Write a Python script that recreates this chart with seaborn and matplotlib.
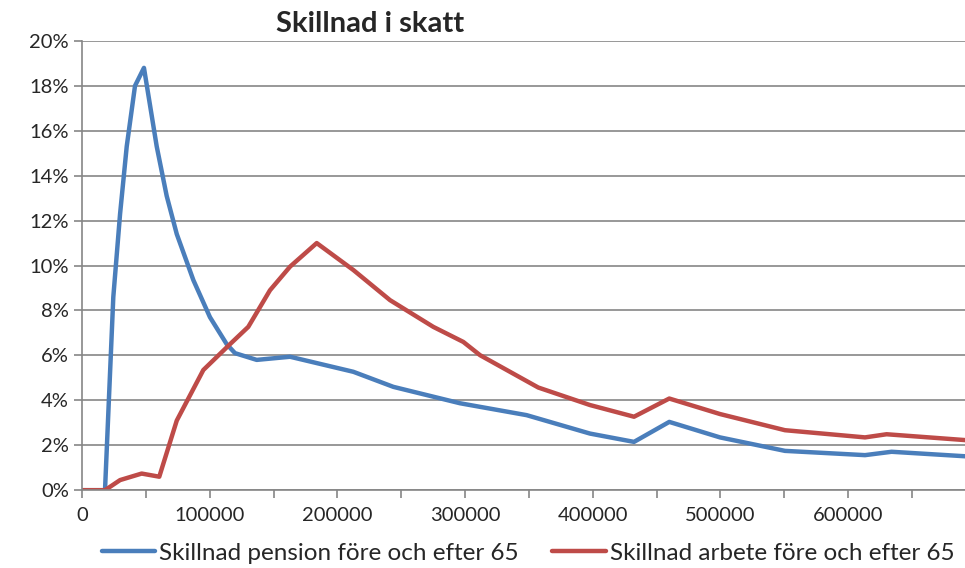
import pandas as pd
import matplotlib.pyplot as plt
import seaborn as sns
from matplotlib.ticker import FuncFormatter, MultipleLocator

# data (income in SEK, difference as fraction)
pension_x = [0, 18000, 24500, 29800, 35000, 41500, 48500, 58500, 66300, 74200,
             87200, 100200, 113300, 119800, 136800, 162900, 212500, 243800,
             296000, 311700, 348200, 397800, 432300, 459900, 499600, 550500,
             613200, 634000, 691500]
pension_y = [0.0, 0.0, 8.6, 12.3, 15.3, 18.0, 18.8, 15.3, 13.1, 11.4,
             9.35, 7.7, 6.5, 6.1, 5.8, 5.94, 5.27, 4.6,
             3.87, 3.71, 3.34, 2.52, 2.15, 3.04, 2.35, 1.75,
             1.56, 1.71, 1.51]

arbete_x = [0, 18000, 29800, 46700, 60500, 74200, 95000, 115900, 130200,
            147200, 162900, 183800, 212500, 241200, 275100, 298600, 311700,
            357300, 397800, 432300, 459900, 499600, 550500, 613200, 630100,
            691500]
arbete_y = [0.0, 0.0, 0.45, 0.74, 0.6, 3.1, 5.35, 6.5, 7.27,
            8.9, 9.95, 11.0, 9.8, 8.46, 7.27, 6.6, 6.01,
            4.57, 3.79, 3.27, 4.08, 3.39, 2.67, 2.35, 2.49,
            2.23]

labels = ["Skillnad pension före och efter 65", "Skillnad arbete före och efter 65"]

df = pd.concat([
    pd.DataFrame({"inkomst": pension_x, "skillnad": [v / 100 for v in pension_y], "serie": labels[0]}),
    pd.DataFrame({"inkomst": arbete_x, "skillnad": [v / 100 for v in arbete_y], "serie": labels[1]}),
])

sns.set_style("white")
plt.rcParams["font.family"] = ["Lato", "DejaVu Sans"]

fig = plt.figure(figsize=(9.65, 5.68), dpi=100)
ax = fig.add_axes([0.085, 0.137, 0.915, 0.791])

sns.lineplot(data=df, x="inkomst", y="skillnad", hue="serie",
             palette=["#4A7EBB", "#BE4B48"], linewidth=3.2, sort=False,
             estimator=None, ax=ax)

ax.set_xlim(0, 691500)
ax.set_ylim(0, 0.2)
ax.yaxis.set_major_locator(MultipleLocator(0.02))
ax.yaxis.set_major_formatter(FuncFormatter(lambda v, p: f"{round(v * 100)}%"))
ax.xaxis.set_major_locator(MultipleLocator(50000))
ax.xaxis.set_major_formatter(FuncFormatter(lambda v, p: f"{int(v)}" if round(v) % 100000 == 0 else ""))

ax.grid(axis="y", color="#868686", linewidth=1.2)
ax.set_axisbelow(True)
for s in ["top", "right"]:
    ax.spines[s].set_visible(False)
for s in ["left", "bottom"]:
    ax.spines[s].set_color("#868686")
    ax.spines[s].set_linewidth(1.2)
ax.tick_params(axis="both", which="major", direction="out", length=6, color="#868686",
               width=1.2, labelsize=14.5, left=True, bottom=True)
ax.tick_params(axis="x", pad=6)
ax.set_xlabel("")
ax.set_ylabel("")

ax.legend(loc="upper center", bbox_to_anchor=(0.505, -0.095), ncol=2, frameon=False,
          fontsize=17.5, handlelength=2.2, handletextpad=0.15, columnspacing=1.4,
          borderaxespad=0)

fig.text(0.383, 0.958, "Skillnad i skatt", ha="center", va="center",
         fontsize=21, fontweight="bold")

fig.savefig("out.png", dpi=100)
